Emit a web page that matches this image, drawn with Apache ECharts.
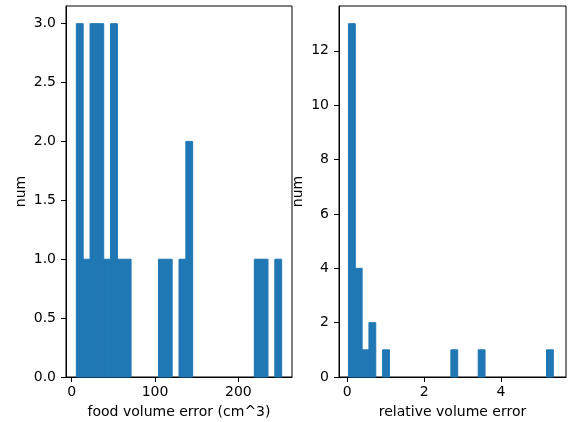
<!DOCTYPE html>
<html>
<head>
<meta charset="utf-8">
<script src="https://cdn.jsdelivr.net/npm/echarts@6/dist/echarts.min.js"></script>
<style>
  html, body { margin: 0; padding: 0; background: #fff; }
  #chart { width: 568px; height: 422px; }
</style>
</head>
<body>
<div id="chart"></div>
<script>
// histogram counts, 30 bins each
const volumeCounts = [3, 1, 3, 3, 1, 3, 1, 1, 0, 0, 0, 0, 1, 1, 0, 1, 2, 0, 0, 0, 0, 0, 0, 0, 0, 0, 1, 1, 0, 1];
const volumeRange = [5.6, 252];
const relativeCounts = [13, 4, 1, 2, 0, 1, 0, 0, 0, 0, 0, 0, 0, 0, 0, 1, 0, 0, 0, 1, 0, 0, 0, 0, 0, 0, 0, 0, 0, 1];
const relativeRange = [0.03, 5.36];

const volumeXTicks = [0, 100, 200];
const volumeYTicks = [0, 0.5, 1, 1.5, 2, 2.5, 3];
const relativeXTicks = [0, 2, 4];
const relativeYTicks = [0, 2, 4, 6, 8, 10, 12];

const barColor = '#1f77b4';
const font = 'DejaVu Sans';

// turn counts into [start, end, count] rows
const toBins = (counts, range) => {
  const w = (range[1] - range[0]) / counts.length;
  return counts.map((c, i) => [range[0] + i * w, range[0] + (i + 1) * w, c]);
};

const renderBar = (params, api) => {
  if (!api.value(2)) return null;
  const top = api.coord([api.value(0), api.value(2)]);
  const base = api.coord([api.value(1), 0]);
  return {
    type: 'rect',
    shape: { x: top[0], y: top[1], width: base[0] - top[0], height: base[1] - top[1] },
    style: { fill: barColor, stroke: barColor, lineWidth: 1 },
  };
};

const axisText = { color: '#000', fontFamily: font, fontSize: 14 };

const xAxisFor = (idx, min, max, ticks, name) => ({
  type: 'value',
  gridIndex: idx,
  min, max,
  name,
  nameLocation: 'middle',
  nameGap: 28,
  nameTextStyle: axisText,
  splitLine: { show: false },
  axisLine: { show: true, onZero: false, lineStyle: { color: '#000', width: 1 } },
  axisTick: { show: true, length: 5, lineStyle: { color: '#000' }, customValues: ticks },
  axisLabel: { ...axisText, margin: 8, customValues: ticks },
});

const yAxisFor = (idx, max, ticks, fmt, gap, margin) => ({
  type: 'value',
  gridIndex: idx,
  min: 0, max,
  name: 'num',
  nameLocation: 'middle',
  nameGap: gap,
  nameTextStyle: axisText,
  splitLine: { show: false },
  axisLine: { show: true, onZero: false, lineStyle: { color: '#000', width: 1 } },
  axisTick: { show: true, length: 5, lineStyle: { color: '#000' }, customValues: ticks },
  axisLabel: { ...axisText, margin, customValues: ticks, formatter: fmt },
});

const chart = echarts.init(document.getElementById('chart'), null, { renderer: 'canvas' });

chart.setOption({
  animation: false,
  backgroundColor: '#fff',
  grid: [
    { left: 66, top: 6, width: 226, height: 371, outerBoundsMode: 'none', show: true, borderColor: '#000', borderWidth: 1 },
    { left: 339, top: 6, width: 227, height: 371, outerBoundsMode: 'none', show: true, borderColor: '#000', borderWidth: 1 },
  ],
  xAxis: [
    xAxisFor(0, -6.8, 264.4, volumeXTicks, 'food volume error (cm^3)'),
    xAxisFor(1, -0.216, 5.69, relativeXTicks, 'relative volume error'),
  ],
  yAxis: [
    yAxisFor(0, 3.15, volumeYTicks, v => v.toFixed(1), 38, 10),
    yAxisFor(1, 13.65, relativeYTicks, v => String(v), 34, 10),
  ],
  series: [
    { type: 'custom', xAxisIndex: 0, yAxisIndex: 0, renderItem: renderBar, encode: { x: [0, 1], y: 2 }, data: toBins(volumeCounts, volumeRange) },
    { type: 'custom', xAxisIndex: 1, yAxisIndex: 1, renderItem: renderBar, encode: { x: [0, 1], y: 2 }, data: toBins(relativeCounts, relativeRange) },
  ],
});
</script>
</body>
</html>
